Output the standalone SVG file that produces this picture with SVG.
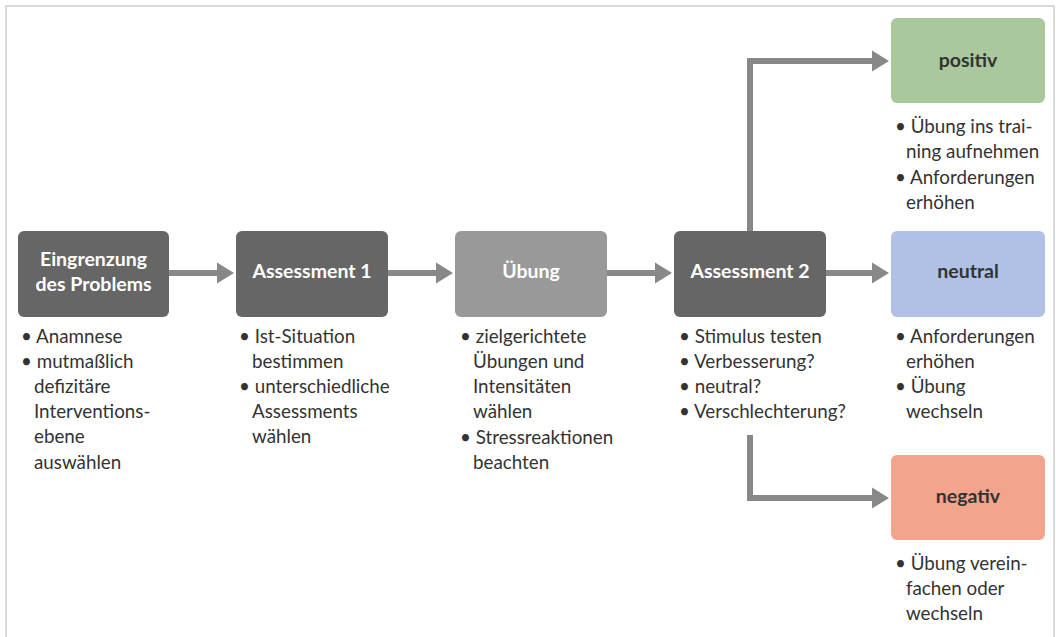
<svg xmlns="http://www.w3.org/2000/svg" width="1056" height="637" viewBox="0 0 1056 637">
<defs>
<marker id="ah" markerUnits="userSpaceOnUse" markerWidth="18" markerHeight="22" viewBox="0 0 18 22" refX="1" refY="11" orient="auto">
<path d="M0,0.5 L17,11 L0,21.5 Z" fill="#888888"/>
</marker>
<style>
.box{stroke:none}
.dark{fill:#666666}
.mid{fill:#999999}
.pos{fill:#a9c99d}
.neu{fill:#b1c1e5}
.neg{fill:#f2a48c}
.title{font-family:Lato,"Open Sans",sans-serif;font-weight:bold;font-size:19.5px;text-anchor:middle;fill:#ffffff}
.title2{font-family:Lato,"Open Sans",sans-serif;font-weight:bold;font-size:19.5px;text-anchor:middle;fill:#333333}
.txt{font-family:Lato,"Open Sans",sans-serif;font-size:18.8px;fill:#333333}
.con{fill:none;stroke:#888888;stroke-width:6;marker-end:url(#ah)}
</style>
</defs>
<path d="M6,637 V6 H1054 V637" fill="none" stroke="#d9d9d9" stroke-width="2"/>
<g id="connectors">
<path class="con" d="M169,273 H218"/>
<path class="con" d="M388,273 H437"/>
<path class="con" d="M607,273 H656"/>
<path class="con" d="M826,273 H873"/>
<path class="con" d="M750,231 V61 H873"/>
<path class="con" d="M750,435 V498 H873"/>
</g>
<g id="n1">
<rect class="box dark" x="18" y="231" width="151" height="86" rx="6"/>
<text class="title" x="93.5" y="266">Eingrenzung</text>
<text class="title" x="93.5" y="291">des Problems</text>
<text class="txt"><tspan x="21" y="343">• Anamnese</tspan><tspan x="21" y="368">• mutmaßlich</tspan><tspan x="34" y="393">defizitäre</tspan><tspan x="34" y="418">Interventions-</tspan><tspan x="34" y="443">ebene</tspan><tspan x="34" y="469">auswählen</tspan></text>
</g>
<g id="n2">
<rect class="box dark" x="236" y="231" width="152" height="86" rx="6"/>
<text class="title" x="312" y="278">Assessment 1</text>
<text class="txt"><tspan x="239" y="343">• Ist-Situation</tspan><tspan x="252" y="368">bestimmen</tspan><tspan x="239" y="393">• unterschiedliche</tspan><tspan x="252" y="418">Assessments</tspan><tspan x="252" y="443">wählen</tspan></text>
</g>
<g id="n3">
<rect class="box mid" x="455" y="231" width="152" height="86" rx="6"/>
<text class="title" x="531" y="278">Übung</text>
<text class="txt"><tspan x="460" y="343">• zielgerichtete</tspan><tspan x="473" y="368">Übungen und</tspan><tspan x="473" y="393">Intensitäten</tspan><tspan x="473" y="418">wählen</tspan><tspan x="460" y="444">• Stressreaktionen</tspan><tspan x="473" y="469">beachten</tspan></text>
</g>
<g id="n4">
<rect class="box dark" x="674" y="231" width="152" height="86" rx="6"/>
<text class="title" x="750" y="278">Assessment 2</text>
<text class="txt"><tspan x="679" y="343">• Stimulus testen</tspan><tspan x="679" y="368">• Verbesserung?</tspan><tspan x="679" y="393">• neutral?</tspan><tspan x="679" y="418">• Verschlechterung?</tspan></text>
</g>
<g id="n5">
<rect class="box pos" x="891" y="18" width="154" height="85" rx="6"/>
<text class="title2" x="968" y="67">positiv</text>
<text class="txt"><tspan x="895" y="133">• Übung ins trai-</tspan><tspan x="906" y="158">ning aufnehmen</tspan><tspan x="895" y="184">• Anforderungen</tspan><tspan x="906" y="209">erhöhen</tspan></text>
</g>
<g id="n6">
<rect class="box neu" x="891" y="231" width="154" height="86" rx="6"/>
<text class="title2" x="968" y="278">neutral</text>
<text class="txt"><tspan x="895" y="343">• Anforderungen</tspan><tspan x="906" y="368">erhöhen</tspan><tspan x="895" y="393">• Übung</tspan><tspan x="906" y="418">wechseln</tspan></text>
</g>
<g id="n7">
<rect class="box neg" x="891" y="455" width="154" height="85" rx="6"/>
<text class="title2" x="968" y="503">negativ</text>
<text class="txt"><tspan x="895" y="570">• Übung verein-</tspan><tspan x="906" y="595">fachen oder</tspan><tspan x="906" y="620">wechseln</tspan></text>
</g>
</svg>
